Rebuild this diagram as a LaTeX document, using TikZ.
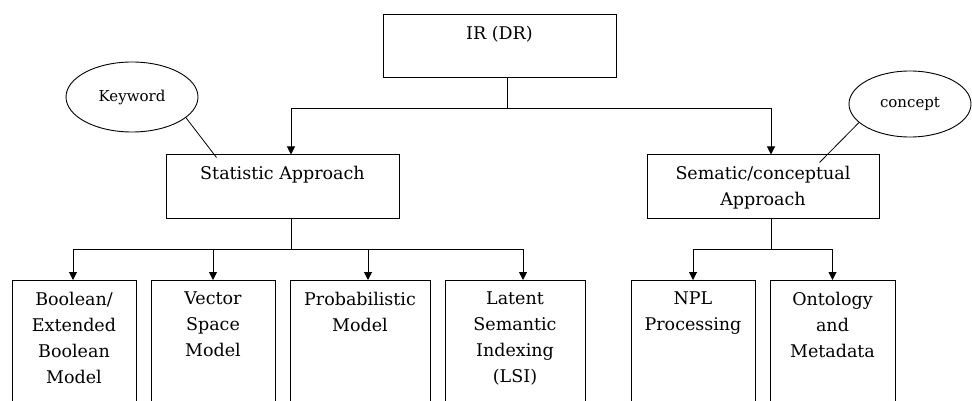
\documentclass[tikz,border=0pt]{standalone}
\usepackage{fontspec}
\setmainfont{DejaVu Serif}
\usetikzlibrary{shapes.geometric,arrows.meta,positioning}

\tikzset{
  box/.style={draw, rectangle, inner sep=0pt, line width=1pt, minimum height=63pt},
  leaf/.style={draw, rectangle, inner sep=0pt, line width=1pt, anchor=north, minimum height=140pt},
  txt/.style={anchor=north, inner sep=0pt, align=center, font=\fontsize{17.5}{26}\selectfont, yshift=-12pt},
  oval/.style={draw, ellipse, inner sep=0pt, line width=0.9pt, font=\fontsize{15}{18}\selectfont},
  link/.style={line width=1pt},
  arr/.style={link, -{Triangle[width=8pt,length=8pt]}},
}

\begin{document}
\begin{tikzpicture}[x=1pt,y=-1pt]
\useasboundingbox (0,0) rectangle (972,401);
\clip (0,0) rectangle (972,401);

% root and the two approaches
\node[box, minimum width=233pt, label={[txt]north:IR (DR)}] (ir) at (499.5,46.5) {};
\node[box, minimum width=233pt, label={[txt]north:Statistic Approach}] (stat) at (282.5,186.5) {};
\node[box, minimum width=232pt, label={[txt]north:Sematic/conceptual\\Approach}] (sem) at (763,186.5) {};

% notes
\node[oval, minimum width=132pt, minimum height=70pt] (kw) at (132,97) {Keyword};
\node[oval, minimum width=122pt, minimum height=66pt] (cpt) at (910,104) {concept};

% models
\node[leaf, minimum width=124pt, label={[txt]north:Boolean/\\Extended\\Boolean\\Model}] (b1) at (74,280) {};
\node[leaf, minimum width=124pt, label={[txt]north:Vector\\Space\\Model}] (b2) at (213,280) {};
\node[leaf, minimum width=140pt, label={[txt]north:Probabilistic\\Model}] (b3) at (360,280) {};
\node[leaf, minimum width=140pt, label={[txt]north:Latent\\Semantic\\Indexing\\(LSI)}] (b4) at (515,280) {};
\node[leaf, minimum width=124pt, label={[txt]north:NPL\\Processing}] (b5) at (693,280) {};
\node[leaf, minimum width=125pt, label={[txt]north:Ontology\\and\\Metadata}] (b6) at (832.5,280) {};

% IR to the approaches
\draw[link] ([xshift=7.5pt]ir.south) -- ++(0,30) coordinate (irj);
\draw[arr] (irj) -| ([xshift=8.5pt]stat.north);
\draw[arr] (irj) -| ([xshift=8pt]sem.north);

% approaches to the models
\draw[link] ([xshift=8.5pt]stat.south) -- ++(0,31) coordinate (sj);
\foreach \n/\dx in {b1/-1,b2/0,b3/8,b4/8}
  \draw[arr] (sj) -| ([xshift=\dx pt]\n.north);
\draw[link] ([xshift=8pt]sem.south) -- ++(0,31) coordinate (mj);
\foreach \n in {b5,b6}
  \draw[arr] (mj) -| (\n.north);

% notes to the approaches
\draw[line width=0.8pt] (kw.-21) -- ([shift={(51pt,-3pt)}]stat.north west);
\draw[line width=0.8pt] (cpt.-160) -- ([shift={(173pt,-8pt)}]sem.north west);
\end{tikzpicture}
\end{document}
